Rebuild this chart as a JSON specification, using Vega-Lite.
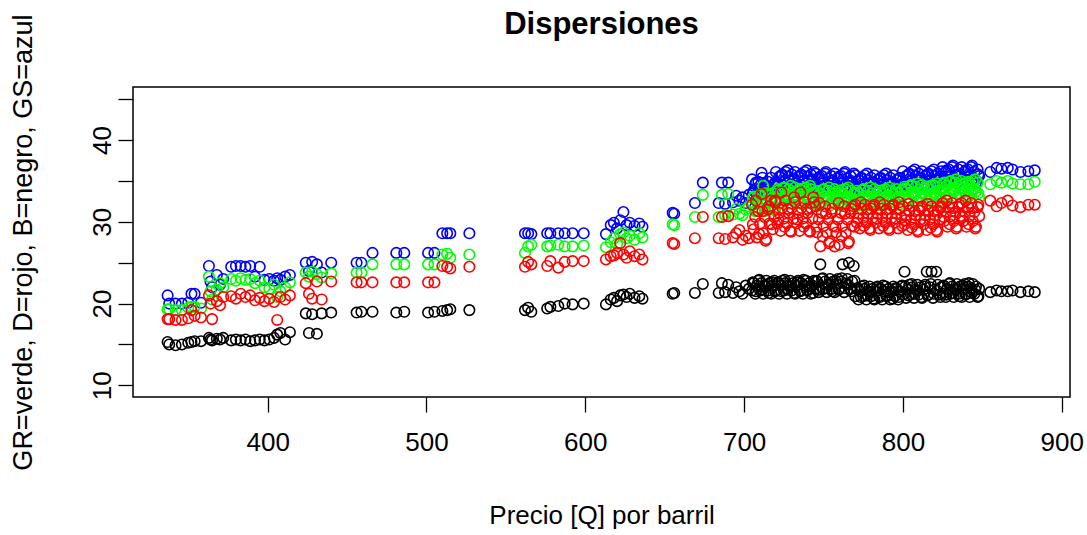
{
  "$schema": "https://vega.github.io/schema/vega-lite/v6.json",
  "width": 937,
  "height": 310,
  "autosize": {"type": "none"},
  "padding": {"left": 133, "top": 87, "right": 17, "bottom": 138},
  "background": "white",
  "title": {
    "text": "Dispersiones",
    "font": "Liberation Sans",
    "fontSize": 31,
    "fontWeight": "bold",
    "color": "#000000",
    "anchor": "middle",
    "offset": -27
  },
  "config": {
    "view": {"stroke": "#000000", "strokeWidth": 1.5},
    "axis": {
      "grid": false,
      "domain": false,
      "tickColor": "#000000",
      "tickWidth": 1.3,
      "tickSize": 15,
      "labelFont": "Liberation Sans",
      "labelFontSize": 26,
      "labelColor": "#000000",
      "labelFlush": false,
      "labelOverlap": false,
      "titleFont": "Liberation Sans",
      "titleFontWeight": "normal",
      "titleColor": "#000000"
    }
  },
  "data": {
    "values": [
      {"p": 337, "gr": 19.3, "d": 18.1, "b": 15.3, "gs": 21.0},
      {"p": 338, "gr": 19.3, "d": 18.1, "b": 15.0, "gs": 20.0},
      {"p": 342, "gr": 19.2, "d": 18.0, "b": 14.9, "gs": 20.0},
      {"p": 346, "gr": 19.2, "d": 18.0, "b": 15.0, "gs": 20.0},
      {"p": 350, "gr": 19.5, "d": 18.2, "b": 15.2, "gs": 20.1},
      {"p": 352, "gr": 19.6, "d": 19.2, "b": 15.3, "gs": 21.2},
      {"p": 354, "gr": 19.6, "d": 18.5, "b": 15.4, "gs": 21.2},
      {"p": 358, "gr": 19.4, "d": 18.3, "b": 15.4, "gs": 20.1},
      {"p": 363, "gr": 23.3, "d": 21.0, "b": 15.8, "gs": 24.6},
      {"p": 364, "gr": 21.5, "d": 20.0, "b": 15.6, "gs": 22.7},
      {"p": 365, "gr": 20.5, "d": 18.1, "b": 15.5, "gs": 22.0},
      {"p": 368, "gr": 21.7, "d": 20.3, "b": 15.7, "gs": 23.5},
      {"p": 370, "gr": 22.5, "d": 19.8, "b": 15.6, "gs": 22.3},
      {"p": 372, "gr": 22.0, "d": 20.8, "b": 15.8, "gs": 23.0},
      {"p": 377, "gr": 23.0, "d": 20.9, "b": 15.5, "gs": 24.5},
      {"p": 380, "gr": 22.8, "d": 20.6, "b": 15.6, "gs": 24.6},
      {"p": 383, "gr": 23.1, "d": 21.2, "b": 15.5, "gs": 24.6},
      {"p": 386, "gr": 22.9, "d": 20.8, "b": 15.6, "gs": 24.5},
      {"p": 389, "gr": 23.0, "d": 21.0, "b": 15.4, "gs": 24.6},
      {"p": 392, "gr": 22.5, "d": 20.4, "b": 15.5, "gs": 23.3},
      {"p": 395, "gr": 22.8, "d": 20.7, "b": 15.6, "gs": 24.5},
      {"p": 398, "gr": 22.0, "d": 20.3, "b": 15.5, "gs": 22.9},
      {"p": 401, "gr": 21.8, "d": 20.6, "b": 15.6, "gs": 23.0},
      {"p": 404, "gr": 22.3, "d": 20.2, "b": 15.8, "gs": 22.8},
      {"p": 406, "gr": 20.8, "d": 18.0, "b": 16.2, "gs": 23.1},
      {"p": 408, "gr": 21.5, "d": 20.8, "b": 16.4, "gs": 22.9},
      {"p": 411, "gr": 22.0, "d": 20.5, "b": 15.6, "gs": 23.3},
      {"p": 414, "gr": 22.6, "d": 21.0, "b": 16.5, "gs": 23.5},
      {"p": 424, "gr": 23.8, "d": 22.5, "b": 18.8, "gs": 25.0},
      {"p": 426, "gr": 23.3, "d": 21.2, "b": 16.4, "gs": 24.0},
      {"p": 428, "gr": 23.9, "d": 20.6, "b": 18.7, "gs": 25.1},
      {"p": 431, "gr": 23.6, "d": 22.7, "b": 16.3, "gs": 24.8},
      {"p": 434, "gr": 23.2, "d": 20.5, "b": 18.8, "gs": 23.8},
      {"p": 440, "gr": 23.7, "d": 22.7, "b": 18.9, "gs": 25.0},
      {"p": 456, "gr": 23.8, "d": 22.6, "b": 18.9, "gs": 25.0},
      {"p": 459, "gr": 23.8, "d": 22.6, "b": 19.0, "gs": 25.0},
      {"p": 466, "gr": 24.8, "d": 22.6, "b": 19.0, "gs": 26.2},
      {"p": 481, "gr": 24.8, "d": 22.6, "b": 18.9, "gs": 26.2},
      {"p": 486, "gr": 24.8, "d": 22.6, "b": 19.0, "gs": 26.2},
      {"p": 501, "gr": 24.8, "d": 22.6, "b": 18.9, "gs": 26.2},
      {"p": 505, "gr": 24.8, "d": 22.6, "b": 19.0, "gs": 26.2},
      {"p": 510, "gr": 26.0, "d": 24.6, "b": 19.1, "gs": 28.6},
      {"p": 513, "gr": 26.1, "d": 24.5, "b": 19.2, "gs": 28.6},
      {"p": 515, "gr": 25.6, "d": 24.3, "b": 19.3, "gs": 28.6},
      {"p": 527, "gr": 26.0, "d": 24.5, "b": 19.2, "gs": 28.6},
      {"p": 562, "gr": 26.2, "d": 24.5, "b": 19.2, "gs": 28.6},
      {"p": 564, "gr": 27.0, "d": 25.1, "b": 19.5, "gs": 28.6},
      {"p": 566, "gr": 27.2, "d": 24.8, "b": 19.0, "gs": 28.5},
      {"p": 576, "gr": 27.0, "d": 24.6, "b": 19.4, "gs": 28.6},
      {"p": 578, "gr": 27.1, "d": 25.2, "b": 19.6, "gs": 28.6},
      {"p": 583, "gr": 27.2, "d": 24.4, "b": 19.7, "gs": 28.6},
      {"p": 587, "gr": 27.0, "d": 25.1, "b": 20.0, "gs": 28.6},
      {"p": 592, "gr": 27.0, "d": 25.2, "b": 19.9, "gs": 28.6},
      {"p": 599, "gr": 27.1, "d": 25.2, "b": 20.0, "gs": 28.6},
      {"p": 613, "gr": 26.9, "d": 25.4, "b": 19.9, "gs": 28.5},
      {"p": 616, "gr": 27.5, "d": 25.8, "b": 20.5, "gs": 29.6},
      {"p": 618, "gr": 28.0, "d": 25.9, "b": 20.7, "gs": 29.9},
      {"p": 620, "gr": 27.3, "d": 26.2, "b": 20.3, "gs": 29.2},
      {"p": 622, "gr": 28.5, "d": 27.4, "b": 21.0, "gs": 30.2},
      {"p": 624, "gr": 28.7, "d": 26.0, "b": 21.1, "gs": 31.2},
      {"p": 626, "gr": 28.0, "d": 25.6, "b": 20.8, "gs": 29.6},
      {"p": 628, "gr": 28.3, "d": 26.4, "b": 21.2, "gs": 29.9},
      {"p": 631, "gr": 27.8, "d": 25.8, "b": 20.7, "gs": 29.5},
      {"p": 634, "gr": 28.6, "d": 26.0, "b": 20.9, "gs": 29.8},
      {"p": 636, "gr": 28.1, "d": 25.4, "b": 20.6, "gs": 29.4},
      {"p": 655, "gr": 29.7, "d": 27.4, "b": 21.2, "gs": 31.1},
      {"p": 656, "gr": 29.6, "d": 27.3, "b": 21.3, "gs": 31.0},
      {"p": 669, "gr": 30.6, "d": 28.0, "b": 21.3, "gs": 32.3},
      {"p": 674, "gr": 33.3, "d": 30.6, "b": 22.4, "gs": 34.8},
      {"p": 684, "gr": 30.6, "d": 28.0, "b": 21.3, "gs": 32.3},
      {"p": 686, "gr": 33.3, "d": 30.6, "b": 22.5, "gs": 34.8},
      {"p": 688, "gr": 30.8, "d": 27.9, "b": 21.4, "gs": 32.2},
      {"p": 690, "gr": 33.4, "d": 30.7, "b": 22.3, "gs": 34.8},
      {"p": 693, "gr": 30.9, "d": 28.1, "b": 21.3, "gs": 32.4},
      {"p": 695, "gr": 31.6, "d": 28.6, "b": 22.0, "gs": 33.2},
      {"p": 697, "gr": 31.0, "d": 29.0, "b": 21.5, "gs": 32.6},
      {"p": 699, "gr": 30.8, "d": 27.8, "b": 21.2, "gs": 33.0},
      {"p": 701, "gr": 31.5, "d": 28.3, "b": 22.2, "gs": 32.3},
      {"p": 703, "gr": 31.9, "d": 28.0, "b": 21.8, "gs": 33.3},
      {"p": 705, "gr": 32.0, "d": 32.1, "b": 21.6, "gs": 35.2},
      {"p": 706, "gr": 33.1, "d": 29.1, "b": 22.5, "gs": 33.8},
      {"p": 707, "gr": 31.3, "d": 30.6, "b": 21.2, "gs": 34.6},
      {"p": 708, "gr": 32.7, "d": 28.1, "b": 22.2, "gs": 33.3},
      {"p": 709, "gr": 31.7, "d": 31.3, "b": 22.8, "gs": 34.9},
      {"p": 710, "gr": 33.3, "d": 29.8, "b": 21.6, "gs": 34.1},
      {"p": 711, "gr": 32.4, "d": 33.4, "b": 22.5, "gs": 36.0},
      {"p": 712, "gr": 34.4, "d": 28.6, "b": 21.2, "gs": 33.8},
      {"p": 713, "gr": 31.3, "d": 30.6, "b": 22.2, "gs": 34.6},
      {"p": 714, "gr": 32.7, "d": 27.9, "b": 22.8, "gs": 33.3},
      {"p": 715, "gr": 31.7, "d": 31.5, "b": 21.6, "gs": 34.9},
      {"p": 716, "gr": 33.3, "d": 29.8, "b": 22.5, "gs": 34.1},
      {"p": 717, "gr": 32.4, "d": 32.6, "b": 21.2, "gs": 35.4},
      {"p": 718, "gr": 33.5, "d": 29.1, "b": 22.2, "gs": 33.8},
      {"p": 719, "gr": 31.6, "d": 30.6, "b": 22.8, "gs": 34.6},
      {"p": 720, "gr": 32.9, "d": 32.4, "b": 21.6, "gs": 36.1},
      {"p": 721, "gr": 34.0, "d": 29.8, "b": 22.5, "gs": 34.7},
      {"p": 722, "gr": 32.2, "d": 31.1, "b": 21.2, "gs": 35.5},
      {"p": 723, "gr": 33.6, "d": 28.9, "b": 22.2, "gs": 34.2},
      {"p": 724, "gr": 32.6, "d": 31.7, "b": 22.8, "gs": 35.8},
      {"p": 725, "gr": 34.2, "d": 30.4, "b": 21.6, "gs": 35.0},
      {"p": 726, "gr": 33.3, "d": 32.6, "b": 22.5, "gs": 36.1},
      {"p": 727, "gr": 32.9, "d": 29.8, "b": 21.2, "gs": 34.7},
      {"p": 728, "gr": 34.0, "d": 31.1, "b": 22.2, "gs": 35.5},
      {"p": 729, "gr": 32.2, "d": 28.9, "b": 22.8, "gs": 34.2},
      {"p": 730, "gr": 33.6, "d": 31.7, "b": 21.6, "gs": 35.8},
      {"p": 731, "gr": 32.6, "d": 30.4, "b": 22.5, "gs": 35.0},
      {"p": 732, "gr": 34.2, "d": 32.4, "b": 21.2, "gs": 36.1},
      {"p": 733, "gr": 33.3, "d": 29.8, "b": 22.2, "gs": 34.7},
      {"p": 734, "gr": 32.9, "d": 31.1, "b": 22.8, "gs": 35.5},
      {"p": 735, "gr": 34.0, "d": 28.9, "b": 21.6, "gs": 34.2},
      {"p": 736, "gr": 32.2, "d": 31.7, "b": 22.5, "gs": 35.8},
      {"p": 737, "gr": 33.6, "d": 30.4, "b": 21.2, "gs": 35.0},
      {"p": 738, "gr": 32.6, "d": 32.4, "b": 22.2, "gs": 36.1},
      {"p": 739, "gr": 34.2, "d": 29.8, "b": 22.8, "gs": 34.7},
      {"p": 740, "gr": 33.3, "d": 31.1, "b": 21.6, "gs": 35.5},
      {"p": 741, "gr": 32.9, "d": 28.9, "b": 22.5, "gs": 34.2},
      {"p": 742, "gr": 34.0, "d": 31.7, "b": 21.2, "gs": 35.8},
      {"p": 743, "gr": 32.2, "d": 30.4, "b": 22.2, "gs": 35.0},
      {"p": 744, "gr": 33.6, "d": 32.4, "b": 22.8, "gs": 36.1},
      {"p": 745, "gr": 32.7, "d": 31.9, "b": 21.8, "gs": 35.9},
      {"p": 746, "gr": 33.8, "d": 28.7, "b": 22.7, "gs": 34.5},
      {"p": 747, "gr": 32.0, "d": 30.3, "b": 21.4, "gs": 35.3},
      {"p": 748, "gr": 33.4, "d": 27.0, "b": 24.8, "gs": 34.0},
      {"p": 749, "gr": 32.4, "d": 31.1, "b": 23.0, "gs": 35.6},
      {"p": 750, "gr": 34.0, "d": 29.5, "b": 21.8, "gs": 34.8},
      {"p": 751, "gr": 33.1, "d": 31.9, "b": 22.7, "gs": 35.9},
      {"p": 752, "gr": 32.7, "d": 28.7, "b": 21.4, "gs": 34.5},
      {"p": 753, "gr": 33.8, "d": 30.3, "b": 22.4, "gs": 35.3},
      {"p": 754, "gr": 32.0, "d": 27.6, "b": 23.0, "gs": 34.0},
      {"p": 755, "gr": 33.4, "d": 31.1, "b": 21.8, "gs": 35.6},
      {"p": 756, "gr": 32.4, "d": 29.5, "b": 22.7, "gs": 34.8},
      {"p": 757, "gr": 34.0, "d": 27.0, "b": 21.4, "gs": 35.9},
      {"p": 758, "gr": 33.1, "d": 28.7, "b": 22.4, "gs": 34.5},
      {"p": 759, "gr": 32.7, "d": 30.3, "b": 23.0, "gs": 35.3},
      {"p": 760, "gr": 33.8, "d": 27.2, "b": 21.8, "gs": 34.0},
      {"p": 761, "gr": 32.0, "d": 31.1, "b": 22.7, "gs": 35.6},
      {"p": 762, "gr": 33.4, "d": 29.5, "b": 24.8, "gs": 34.8},
      {"p": 763, "gr": 32.4, "d": 31.9, "b": 21.4, "gs": 35.9},
      {"p": 764, "gr": 34.0, "d": 28.7, "b": 22.4, "gs": 34.5},
      {"p": 765, "gr": 33.1, "d": 30.3, "b": 23.0, "gs": 35.3},
      {"p": 766, "gr": 32.7, "d": 27.6, "b": 25.0, "gs": 34.0},
      {"p": 767, "gr": 33.8, "d": 31.1, "b": 21.8, "gs": 35.6},
      {"p": 768, "gr": 32.0, "d": 29.5, "b": 22.7, "gs": 34.8},
      {"p": 769, "gr": 33.4, "d": 31.9, "b": 24.6, "gs": 35.9},
      {"p": 770, "gr": 32.7, "d": 32.1, "b": 20.9, "gs": 35.7},
      {"p": 771, "gr": 33.8, "d": 29.9, "b": 21.8, "gs": 34.3},
      {"p": 772, "gr": 32.0, "d": 31.0, "b": 20.5, "gs": 35.1},
      {"p": 773, "gr": 33.4, "d": 29.2, "b": 21.5, "gs": 33.8},
      {"p": 774, "gr": 32.4, "d": 31.6, "b": 22.1, "gs": 35.4},
      {"p": 775, "gr": 34.0, "d": 30.5, "b": 20.9, "gs": 34.6},
      {"p": 776, "gr": 33.1, "d": 32.1, "b": 21.8, "gs": 35.7},
      {"p": 777, "gr": 32.7, "d": 29.9, "b": 20.5, "gs": 34.3},
      {"p": 778, "gr": 33.8, "d": 31.0, "b": 21.5, "gs": 35.1},
      {"p": 779, "gr": 32.0, "d": 29.2, "b": 22.1, "gs": 33.8},
      {"p": 780, "gr": 33.4, "d": 31.6, "b": 20.9, "gs": 35.4},
      {"p": 781, "gr": 32.4, "d": 30.5, "b": 21.8, "gs": 34.6},
      {"p": 782, "gr": 34.0, "d": 32.1, "b": 20.5, "gs": 35.7},
      {"p": 783, "gr": 33.1, "d": 29.9, "b": 21.5, "gs": 34.3},
      {"p": 784, "gr": 32.7, "d": 31.0, "b": 22.1, "gs": 35.1},
      {"p": 785, "gr": 33.8, "d": 29.2, "b": 20.9, "gs": 33.8},
      {"p": 786, "gr": 32.0, "d": 31.6, "b": 21.8, "gs": 35.4},
      {"p": 787, "gr": 33.4, "d": 30.5, "b": 20.5, "gs": 34.6},
      {"p": 788, "gr": 32.4, "d": 32.1, "b": 21.5, "gs": 35.7},
      {"p": 789, "gr": 34.0, "d": 29.9, "b": 22.1, "gs": 34.3},
      {"p": 790, "gr": 33.1, "d": 31.0, "b": 20.9, "gs": 35.1},
      {"p": 791, "gr": 32.7, "d": 29.2, "b": 21.8, "gs": 33.8},
      {"p": 792, "gr": 33.8, "d": 31.6, "b": 20.5, "gs": 35.4},
      {"p": 793, "gr": 32.0, "d": 30.5, "b": 21.5, "gs": 34.6},
      {"p": 794, "gr": 33.4, "d": 32.1, "b": 22.1, "gs": 35.7},
      {"p": 795, "gr": 32.4, "d": 29.9, "b": 20.9, "gs": 34.3},
      {"p": 796, "gr": 34.0, "d": 31.0, "b": 21.8, "gs": 35.1},
      {"p": 797, "gr": 33.1, "d": 29.2, "b": 20.5, "gs": 33.8},
      {"p": 798, "gr": 32.7, "d": 31.6, "b": 21.5, "gs": 35.4},
      {"p": 799, "gr": 33.8, "d": 30.5, "b": 22.1, "gs": 34.6},
      {"p": 800, "gr": 33.2, "d": 31.9, "b": 21.1, "gs": 36.2},
      {"p": 801, "gr": 34.3, "d": 29.7, "b": 23.9, "gs": 34.8},
      {"p": 802, "gr": 32.5, "d": 30.8, "b": 20.7, "gs": 35.6},
      {"p": 803, "gr": 33.9, "d": 29.0, "b": 21.7, "gs": 34.3},
      {"p": 804, "gr": 32.9, "d": 31.4, "b": 22.3, "gs": 35.9},
      {"p": 805, "gr": 34.5, "d": 30.3, "b": 21.1, "gs": 35.1},
      {"p": 806, "gr": 33.6, "d": 31.9, "b": 22.0, "gs": 36.2},
      {"p": 807, "gr": 33.2, "d": 29.7, "b": 20.7, "gs": 34.8},
      {"p": 808, "gr": 34.3, "d": 30.8, "b": 21.7, "gs": 35.6},
      {"p": 809, "gr": 32.5, "d": 29.0, "b": 22.3, "gs": 34.3},
      {"p": 810, "gr": 33.9, "d": 31.4, "b": 21.1, "gs": 35.9},
      {"p": 811, "gr": 32.9, "d": 30.3, "b": 22.0, "gs": 35.1},
      {"p": 812, "gr": 34.5, "d": 31.9, "b": 20.7, "gs": 36.2},
      {"p": 813, "gr": 33.6, "d": 29.7, "b": 21.7, "gs": 34.8},
      {"p": 814, "gr": 33.2, "d": 30.8, "b": 22.3, "gs": 35.6},
      {"p": 815, "gr": 34.3, "d": 29.0, "b": 23.9, "gs": 34.3},
      {"p": 816, "gr": 32.5, "d": 31.4, "b": 21.1, "gs": 35.9},
      {"p": 817, "gr": 33.9, "d": 30.3, "b": 22.0, "gs": 35.1},
      {"p": 818, "gr": 32.9, "d": 31.9, "b": 23.9, "gs": 36.2},
      {"p": 819, "gr": 34.5, "d": 29.7, "b": 20.7, "gs": 34.8},
      {"p": 820, "gr": 33.6, "d": 30.8, "b": 21.7, "gs": 35.6},
      {"p": 821, "gr": 33.2, "d": 29.0, "b": 23.9, "gs": 34.3},
      {"p": 822, "gr": 34.3, "d": 31.4, "b": 22.3, "gs": 35.9},
      {"p": 823, "gr": 32.5, "d": 30.3, "b": 21.1, "gs": 35.1},
      {"p": 824, "gr": 33.9, "d": 31.9, "b": 22.0, "gs": 36.2},
      {"p": 825, "gr": 33.7, "d": 32.3, "b": 21.2, "gs": 36.7},
      {"p": 826, "gr": 34.8, "d": 30.1, "b": 22.1, "gs": 35.3},
      {"p": 827, "gr": 33.0, "d": 31.2, "b": 20.8, "gs": 36.1},
      {"p": 828, "gr": 34.4, "d": 29.4, "b": 21.8, "gs": 34.8},
      {"p": 829, "gr": 33.4, "d": 31.8, "b": 22.4, "gs": 36.4},
      {"p": 830, "gr": 35.0, "d": 30.7, "b": 21.2, "gs": 35.6},
      {"p": 831, "gr": 34.1, "d": 32.3, "b": 22.1, "gs": 36.7},
      {"p": 832, "gr": 33.7, "d": 30.1, "b": 20.8, "gs": 35.3},
      {"p": 833, "gr": 34.8, "d": 31.2, "b": 21.8, "gs": 36.1},
      {"p": 834, "gr": 33.0, "d": 29.4, "b": 22.4, "gs": 34.8},
      {"p": 835, "gr": 34.4, "d": 31.8, "b": 21.2, "gs": 36.4},
      {"p": 836, "gr": 33.4, "d": 30.7, "b": 22.1, "gs": 35.6},
      {"p": 837, "gr": 35.0, "d": 32.3, "b": 20.8, "gs": 36.7},
      {"p": 838, "gr": 34.1, "d": 30.1, "b": 21.8, "gs": 35.3},
      {"p": 839, "gr": 33.7, "d": 31.2, "b": 22.4, "gs": 36.1},
      {"p": 840, "gr": 34.8, "d": 29.4, "b": 21.2, "gs": 34.8},
      {"p": 841, "gr": 33.0, "d": 31.8, "b": 22.1, "gs": 36.4},
      {"p": 842, "gr": 34.4, "d": 30.7, "b": 20.8, "gs": 35.6},
      {"p": 843, "gr": 33.4, "d": 32.3, "b": 21.8, "gs": 36.7},
      {"p": 844, "gr": 35.0, "d": 30.1, "b": 22.4, "gs": 35.3},
      {"p": 845, "gr": 34.1, "d": 31.2, "b": 21.2, "gs": 36.1},
      {"p": 846, "gr": 33.7, "d": 29.4, "b": 22.1, "gs": 34.8},
      {"p": 847, "gr": 34.8, "d": 31.8, "b": 20.8, "gs": 36.4},
      {"p": 848, "gr": 33.0, "d": 30.7, "b": 21.8, "gs": 35.6},
      {"p": 855, "gr": 34.6, "d": 32.6, "b": 21.4, "gs": 36.1},
      {"p": 859, "gr": 35.0, "d": 31.9, "b": 21.6, "gs": 36.6},
      {"p": 862, "gr": 34.8, "d": 32.3, "b": 21.5, "gs": 36.5},
      {"p": 866, "gr": 35.0, "d": 32.6, "b": 21.5, "gs": 36.6},
      {"p": 869, "gr": 34.7, "d": 32.0, "b": 21.6, "gs": 36.4},
      {"p": 874, "gr": 34.6, "d": 31.8, "b": 21.4, "gs": 36.1},
      {"p": 879, "gr": 34.6, "d": 32.1, "b": 21.5, "gs": 36.2},
      {"p": 883, "gr": 34.9, "d": 32.1, "b": 21.4, "gs": 36.3},
      {"p": 705.5, "gr": 32.9, "d": 29.7, "b": 22.6, "gs": 33.5},
      {"p": 707.5, "gr": 31.4, "d": 32.6, "b": 21.5, "gs": 34.8},
      {"p": 709.5, "gr": 33.2, "d": 28.5, "b": 22.9, "gs": 34.0},
      {"p": 711.5, "gr": 32.1, "d": 31.3, "b": 21.7, "gs": 35.4},
      {"p": 713.5, "gr": 33.5, "d": 27.7, "b": 22.1, "gs": 33.7},
      {"p": 715.5, "gr": 31.8, "d": 31.9, "b": 21.3, "gs": 34.3},
      {"p": 717.5, "gr": 32.9, "d": 29.7, "b": 22.6, "gs": 33.5},
      {"p": 719.5, "gr": 31.4, "d": 32.6, "b": 21.5, "gs": 34.8},
      {"p": 721.5, "gr": 33.8, "d": 30.3, "b": 22.6, "gs": 34.4},
      {"p": 723.5, "gr": 32.3, "d": 33.6, "b": 21.5, "gs": 35.7},
      {"p": 725.5, "gr": 34.1, "d": 29.4, "b": 22.9, "gs": 34.9},
      {"p": 727.5, "gr": 33.0, "d": 31.6, "b": 21.7, "gs": 36.3},
      {"p": 729.5, "gr": 34.4, "d": 28.8, "b": 22.1, "gs": 34.6},
      {"p": 731.5, "gr": 32.7, "d": 33.0, "b": 21.3, "gs": 35.2},
      {"p": 733.5, "gr": 33.8, "d": 30.3, "b": 22.6, "gs": 34.4},
      {"p": 735.5, "gr": 32.3, "d": 33.6, "b": 21.5, "gs": 35.7},
      {"p": 737.5, "gr": 34.1, "d": 29.4, "b": 22.9, "gs": 34.9},
      {"p": 739.5, "gr": 33.0, "d": 31.6, "b": 21.7, "gs": 36.3},
      {"p": 741.5, "gr": 34.4, "d": 28.8, "b": 22.1, "gs": 34.6},
      {"p": 743.5, "gr": 32.7, "d": 33.0, "b": 21.3, "gs": 35.2},
      {"p": 745.5, "gr": 33.6, "d": 29.4, "b": 22.8, "gs": 34.2},
      {"p": 747.5, "gr": 32.1, "d": 32.3, "b": 21.7, "gs": 35.5},
      {"p": 749.5, "gr": 33.9, "d": 28.2, "b": 23.1, "gs": 34.7},
      {"p": 751.5, "gr": 32.8, "d": 31.0, "b": 21.9, "gs": 36.1},
      {"p": 753.5, "gr": 34.2, "d": 27.4, "b": 22.3, "gs": 34.4},
      {"p": 755.5, "gr": 32.5, "d": 31.6, "b": 21.5, "gs": 35.0},
      {"p": 757.5, "gr": 33.6, "d": 29.4, "b": 22.8, "gs": 34.2},
      {"p": 759.5, "gr": 32.1, "d": 32.3, "b": 21.7, "gs": 35.5},
      {"p": 761.5, "gr": 33.9, "d": 28.2, "b": 23.1, "gs": 34.7},
      {"p": 763.5, "gr": 32.8, "d": 31.0, "b": 21.9, "gs": 36.1},
      {"p": 765.5, "gr": 34.2, "d": 27.4, "b": 22.3, "gs": 34.4},
      {"p": 767.5, "gr": 32.5, "d": 31.6, "b": 21.5, "gs": 35.0},
      {"p": 769.5, "gr": 33.6, "d": 29.4, "b": 22.8, "gs": 34.2},
      {"p": 771.5, "gr": 33.6, "d": 30.4, "b": 21.9, "gs": 34.0},
      {"p": 773.5, "gr": 32.1, "d": 32.4, "b": 20.8, "gs": 35.3},
      {"p": 775.5, "gr": 33.9, "d": 29.5, "b": 22.2, "gs": 34.5},
      {"p": 777.5, "gr": 32.8, "d": 31.5, "b": 21.0, "gs": 35.9},
      {"p": 779.5, "gr": 34.2, "d": 29.0, "b": 21.4, "gs": 34.2},
      {"p": 781.5, "gr": 32.5, "d": 31.9, "b": 20.6, "gs": 34.8},
      {"p": 783.5, "gr": 33.6, "d": 30.4, "b": 21.9, "gs": 34.0},
      {"p": 785.5, "gr": 32.1, "d": 32.4, "b": 20.8, "gs": 35.3},
      {"p": 787.5, "gr": 33.9, "d": 29.5, "b": 22.2, "gs": 34.5},
      {"p": 789.5, "gr": 32.8, "d": 31.5, "b": 21.0, "gs": 35.9},
      {"p": 791.5, "gr": 34.2, "d": 29.0, "b": 21.4, "gs": 34.2},
      {"p": 793.5, "gr": 32.5, "d": 31.9, "b": 20.6, "gs": 34.8},
      {"p": 795.5, "gr": 33.6, "d": 30.4, "b": 21.9, "gs": 34.0},
      {"p": 797.5, "gr": 32.1, "d": 32.4, "b": 20.8, "gs": 35.3},
      {"p": 799.5, "gr": 33.9, "d": 29.5, "b": 22.2, "gs": 34.5},
      {"p": 801.5, "gr": 34.1, "d": 30.2, "b": 22.1, "gs": 34.5},
      {"p": 803.5, "gr": 32.6, "d": 32.2, "b": 21.0, "gs": 35.8},
      {"p": 805.5, "gr": 34.4, "d": 29.3, "b": 22.4, "gs": 35.0},
      {"p": 807.5, "gr": 33.3, "d": 31.3, "b": 21.2, "gs": 36.4},
      {"p": 809.5, "gr": 34.7, "d": 28.8, "b": 21.6, "gs": 34.7},
      {"p": 811.5, "gr": 33.0, "d": 31.7, "b": 20.8, "gs": 35.3},
      {"p": 813.5, "gr": 34.1, "d": 30.2, "b": 22.1, "gs": 34.5},
      {"p": 815.5, "gr": 32.6, "d": 32.2, "b": 21.0, "gs": 35.8},
      {"p": 817.5, "gr": 34.4, "d": 29.3, "b": 22.4, "gs": 35.0},
      {"p": 819.5, "gr": 33.3, "d": 31.3, "b": 21.2, "gs": 36.4},
      {"p": 821.5, "gr": 34.7, "d": 28.8, "b": 21.6, "gs": 34.7},
      {"p": 823.5, "gr": 33.0, "d": 31.7, "b": 20.8, "gs": 35.3},
      {"p": 825.5, "gr": 34.6, "d": 30.6, "b": 22.2, "gs": 35.0},
      {"p": 827.5, "gr": 33.1, "d": 32.6, "b": 21.1, "gs": 36.3},
      {"p": 829.5, "gr": 34.9, "d": 29.7, "b": 22.5, "gs": 35.5},
      {"p": 831.5, "gr": 33.8, "d": 31.7, "b": 21.3, "gs": 36.9},
      {"p": 833.5, "gr": 35.2, "d": 29.2, "b": 21.7, "gs": 35.2},
      {"p": 835.5, "gr": 33.5, "d": 32.1, "b": 20.9, "gs": 35.8},
      {"p": 837.5, "gr": 34.6, "d": 30.6, "b": 22.2, "gs": 35.0},
      {"p": 839.5, "gr": 33.1, "d": 32.6, "b": 21.1, "gs": 36.3},
      {"p": 841.5, "gr": 34.9, "d": 29.7, "b": 22.5, "gs": 35.5},
      {"p": 843.5, "gr": 33.8, "d": 31.7, "b": 21.3, "gs": 36.9},
      {"p": 845.5, "gr": 35.2, "d": 29.2, "b": 21.7, "gs": 35.2},
      {"p": 847.5, "gr": 33.5, "d": 32.1, "b": 20.9, "gs": 35.8}
    ]
  },
  "transform": [{"fold": ["gs", "gr", "d", "b"], "as": ["serie", "valor"]}],
  "mark": {"type": "point", "filled": false, "size": 110, "strokeWidth": 1.6, "opacity": 1},
  "encoding": {
    "x": {
      "field": "p",
      "type": "quantitative",
      "scale": {"domain": [315.2, 905.2], "nice": false, "zero": false},
      "axis": {
        "values": [400, 500, 600, 700, 800, 900],
        "labelPadding": 17,
        "title": "Precio [Q] por barril",
        "titleFontSize": 26,
        "titleBaseline": "alphabetic",
        "titleX": 468.5,
        "titleY": 126
      }
    },
    "y": {
      "field": "valor",
      "type": "quantitative",
      "scale": {"domain": [8.57, 46.5], "nice": false, "zero": false},
      "axis": {
        "values": [10, 15, 20, 25, 30, 35, 40, 45],
        "labelExpr": "datum.value % 10 === 0 ? datum.label : ''",
        "labelAngle": -90,
        "labelAlign": "center",
        "labelBaseline": "alphabetic",
        "labelPadding": 8,
        "title": "GR=verde, D=rojo, B=negro, GS=azul",
        "titleFontSize": 27,
        "titleAngle": -90,
        "titleAlign": "center",
        "titleBaseline": "alphabetic",
        "titleX": -102,
        "titleY": 155
      }
    },
    "color": {
      "field": "serie",
      "type": "nominal",
      "scale": {"domain": ["gs", "gr", "d", "b"], "range": ["#0000FF", "#00FF00", "#FF0000", "#000000"]},
      "legend": null
    },
    "order": {"field": "serie", "sort": "descending"}
  }
}
